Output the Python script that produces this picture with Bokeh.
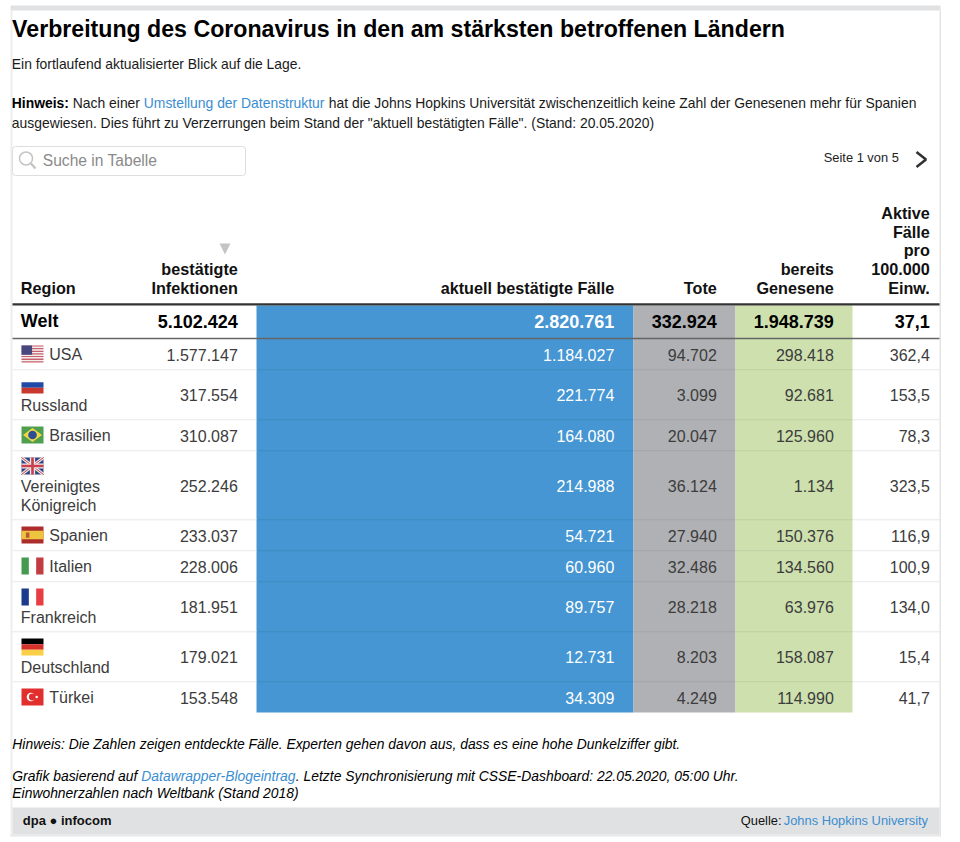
from bokeh.plotting import figure
from bokeh.models import Range1d
from bokeh.core.properties import value
from bokeh.embed import file_html
from bokeh.resources import INLINE

# ---------- data ----------
title = "Verbreitung des Coronavirus in den am stärksten betroffenen Ländern"
subtitle = "Ein fortlaufend aktualisierter Blick auf die Lage."
regions = ["USA", "Russland", "Brasilien", "Vereinigtes\nKönigreich", "Spanien", "Italien", "Frankreich", "Deutschland", "Türkei"]
flags = ["us", "ru", "br", "gb", "es", "it", "fr", "de", "tr"]
inline_flag = [True, False, True, False, True, True, False, False, True]
infected = ["1.577.147", "317.554", "310.087", "252.246", "233.037", "228.006", "181.951", "179.021", "153.548"]
active = ["1.184.027", "221.774", "164.080", "214.988", "54.721", "60.960", "89.757", "12.731", "34.309"]
deaths = ["94.702", "3.099", "20.047", "36.124", "27.940", "32.486", "28.218", "8.203", "4.249"]
recovered = ["298.418", "92.681", "125.960", "1.134", "150.376", "134.560", "63.976", "158.087", "114.990"]
per100k = ["362,4", "153,5", "78,3", "323,5", "116,9", "100,9", "134,0", "15,4", "41,7"]
world = ["Welt", "5.102.424", "2.820.761", "332.924", "1.948.739", "37,1"]

# ---------- layout ----------
W, H = 945, 838
FONT = value("Liberation Sans")
LINK = "#3a8dd0"
BLUE, GREY, GREEN = "#4596d2", "#b0b1b5", "#cde0ae"
BODY = 13.9
BASE_SHIFT = 0.35  # renderer's baseline offset, in em

p = figure(width=W, height=H, x_range=Range1d(0, W), y_range=Range1d(H, 0),
           x_axis_type=None, y_axis_type=None, toolbar_location=None, output_backend="svg",
           min_border=0, outline_line_color=None, margin=(0, 0, 0, 0))
p.grid.visible = False


def txt(x, y, s, size=13, color="#1a1a1a", align="left", style="normal"):
    p.text([x - 0.7], [y - BASE_SHIFT * size], text=[s], text_font=FONT, text_font_size=f"{size}px", text_color=color,
           text_align=align, text_baseline="alphabetic", text_font_style=style)


def box(l, r, t, b, color, alpha=1.0):
    p.quad(left=[l], right=[r], top=[t], bottom=[b], fill_color=color, fill_alpha=alpha, line_color=None)


# frame
box(10, 940, 5, 10, "#e0e1e3")
box(10, 12, 10, 836, "#eeeeee")
box(939, 940.5, 10, 836, "#e4e4e4")
box(10, 940, 834, 836, "#e8e8e8")

# heading
txt(12.3, 37, title, 23.15, "#000000", style="bold")
txt(12, 68, subtitle, BODY)
txt(12, 107.3, "Hinweis:", BODY, "#000000", style="bold")
txt(73, 107.3, "Nach einer", BODY)
txt(144, 107.3, "Umstellung der Datenstruktur", BODY, LINK)
txt(329, 107.3, "hat die Johns Hopkins Universität zwischenzeitlich keine Zahl der Genesenen mehr für Spanien", BODY)
txt(12, 127.3, 'ausgewiesen. Dies führt zu Verzerrungen beim Stand der "aktuell bestätigten Fälle". (Stand: 20.05.2020)', BODY)

# search + pagination
p.quad(left=[12], right=[245], top=[146], bottom=[175], fill_color="white", line_color="#dddddd", line_width=1,
       border_radius=3)
p.circle([25.5], [158], radius=6.5, fill_color=None, line_color="#c4c4c4", line_width=1.5)
p.line([30.5, 35], [163, 168], line_color="#c4c4c4", line_width=2.5)
txt(43, 165.5, "Suche in Tabelle", 15.6, "#8a8a8a")
txt(824, 161, "Seite 1 von 5", 12.85, "#222222")
p.line([916, 925.5, 916], [151.5, 159, 166.5], line_color="#333333", line_width=2.6)

# column geometry
right_edges = [238, 614.5, 717, 834, 930]
col_fill = [(256, 633, BLUE), (633, 735, GREY), (735, 852, GREEN)]
ROW_TOP_WORLD, ROW_TOP = 305, 338
HEAD_BASE = 293

# headers
txt(21, HEAD_BASE, "Region", 16.2, "#111111", style="bold")
headers = [["bestätigte", "Infektionen"], ["aktuell bestätigte Fälle"], ["Tote"], ["bereits", "Genesene"],
           ["Aktive", "Fälle", "pro", "100.000", "Einw."]]
for xr, lines in zip(right_edges, headers):
    for i, s in enumerate(reversed(lines)):
        txt(xr, HEAD_BASE - i * 18.7, s, 16.2, "#111111", "right", "bold")
p.patch([219, 230, 224.5], [243, 243, 254], fill_color="#c4c4c4", line_color=None)

# row heights derive from the line count of each label
heights = []
for name, inl in zip(regions, inline_flag):
    n = name.count("\n") + 1 + (0 if inl else 1)
    heights.append(31 if n == 1 else 31 + 19 * (n - 1))
tops = [ROW_TOP]
for h in heights:
    tops.append(tops[-1] + h)
BOTTOM = tops[-1]

for l, r, c in col_fill:
    box(l, r, ROW_TOP_WORLD, BOTTOM, c)

# separators
for y in tops[1:-1]:
    box(12, 256, y - 0.3, y + 0.7, "#e8e8e8")
    box(852, 939, y - 0.3, y + 0.7, "#e8e8e8")
    box(256, 852, y - 0.3, y + 0.7, "#000000", 0.07)
box(12, 939, 302.8, 305, "#333333")
box(12, 939, 337.2, 338.8, "#666666")

# world row
txt(21, 327, world[0], 18, "#000000", style="bold")
for xr, s, c in zip(right_edges, world[1:], ["#000000", "#ffffff", "#000000", "#000000", "#000000"]):
    txt(xr, 327, s, 18, c, "right", "bold")


def flag(code, x, y):
    w, h = 22, 17

    def band(a, b, c, d, col):
        box(x + a * w, x + b * w, y + c * h, y + d * h, col)

    if code == "us":
        for i in range(13):
            band(0, 1, i / 13, (i + 1) / 13, "#c8606c" if i % 2 == 0 else "#f3f0f0")
        band(0, 0.48, 0, 7 / 13, "#47477f")
    elif code == "ru":
        band(0, 1, 1 / 3, 2 / 3, "#2049a8")
        band(0, 1, 2 / 3, 1, "#c8382e")
    elif code == "br":
        band(0, 1, 0, 1, "#4f9f4e")
        p.patch([x + 1.5, x + 11, x + 20.5, x + 11], [y + 8.5, y + 1.5, y + 8.5, y + 15.5], fill_color="#f2d648", line_color=None)
        p.circle([x + 11], [y + 8.5], radius=4.3, fill_color="#2a4f93", line_color=None)
    elif code == "gb":
        band(0, 1, 0, 1, "#2e4680")
        for a, b in [((x, y), (x + w, y + h)), ((x, y + h), (x + w, y))]:
            p.line([a[0], b[0]], [a[1], b[1]], line_color="#f0e8e8", line_width=3)
            p.line([a[0], b[0]], [a[1], b[1]], line_color="#c8404c", line_width=1)
        band(0.38, 0.62, 0, 1, "#f0e8e8")
        band(0, 1, 0.36, 0.64, "#f0e8e8")
        band(0.44, 0.56, 0, 1, "#c8404c")
        band(0, 1, 0.42, 0.58, "#c8404c")
    elif code == "es":
        band(0, 1, 0, 1, "#ad2c2c")
        band(0, 1, 0.25, 0.75, "#eec33f")
        band(0.2, 0.36, 0.36, 0.66, "#b85a35")
    elif code == "it":
        band(0, 1 / 3, 0, 1, "#459a50")
        band(2 / 3, 1, 0, 1, "#c13d42")
    elif code == "fr":
        band(0, 1 / 3, 0, 1, "#1c3a8c")
        band(2 / 3, 1, 0, 1, "#e83d42")
    elif code == "de":
        band(0, 1, 0, 1 / 3, "#000000")
        band(0, 1, 1 / 3, 2 / 3, "#d6302a")
        band(0, 1, 2 / 3, 1, "#fbcf46")
    elif code == "tr":
        band(0, 1, 0, 1, "#e12f2e")
        p.circle([x + 9.5], [y + 8.5], radius=4.3, fill_color="white", line_color=None)
        p.circle([x + 10.8], [y + 8.5], radius=3.4, fill_color="#e12f2e", line_color=None)
        p.circle([x + 15.2], [y + 8.5], radius=1.2, fill_color="white", line_color=None)


# data rows
TXT = "#3c3c3c"
for i, (name, code, inl) in enumerate(zip(regions, flags, inline_flag)):
    t, b = tops[i], tops[i + 1]
    flag(code, 21, t + 7)
    lines = name.split("\n")
    if inl:
        txt(49.5, b - 9, name, 16, TXT)
    else:
        for j, s in enumerate(reversed(lines)):
            txt(21, b - 8.7 - j * 19, s, 16, TXT)
    base = (t + b) / 2 + 6.5
    cols = [infected[i], active[i], deaths[i], recovered[i], per100k[i]]
    for xr, s, c in zip(right_edges, cols, [TXT, "#ffffff", TXT, TXT, TXT]):
        txt(xr, base, s, 16, c, "right")

# footnotes
txt(12.5, 748.2, "Hinweis: Die Zahlen zeigen entdeckte Fälle. Experten gehen davon aus, dass es eine hohe Dunkelziffer gibt.", BODY, "#000000", style="italic")
txt(12.5, 780.2, "Grafik basierend auf", BODY, "#000000", style="italic")
txt(141.5, 780.2, "Datawrapper-Blogeintrag", BODY, LINK, style="italic")
txt(296, 780.2, ". Letzte Synchronisierung mit CSSE-Dashboard: 22.05.2020, 05:00 Uhr.", BODY, "#000000", style="italic")
txt(12.5, 797.2, "Einwohnerzahlen nach Weltbank (Stand 2018)", BODY, "#000000", style="italic")

# footer bar
box(12, 939, 807, 834, "#e0e1e3")
txt(23, 824.4, "dpa ● infocom", 13, "#111111", style="bold")
txt(741, 824.4, "Quelle:", 12.85, "#111111")
txt(784, 824.4, "Johns Hopkins University", 12.85, LINK)

open("out.html", "w").write(file_html(p, INLINE))
